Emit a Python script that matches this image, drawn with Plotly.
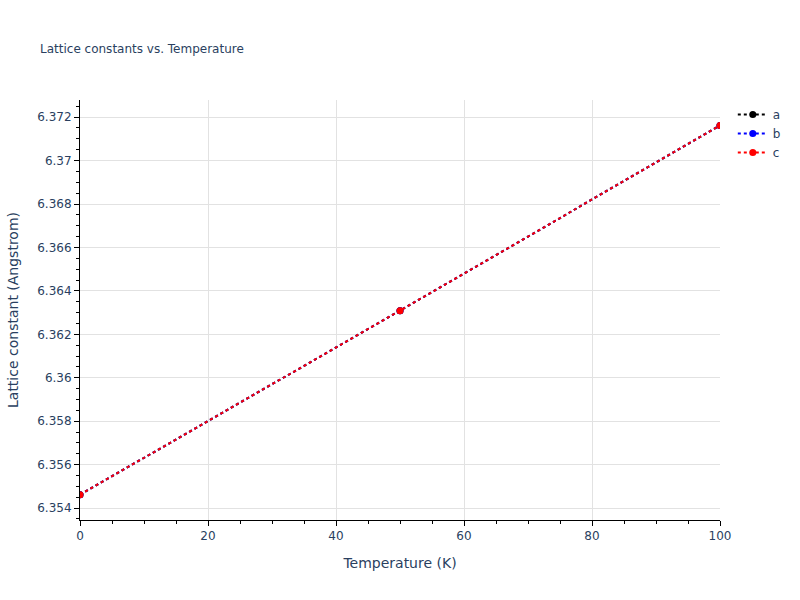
import plotly.graph_objects as go

# Temperatures (K) and lattice constants (Angstrom)
temperature = [0, 50, 100]
lattice_a = [6.35462, 6.36309, 6.37162]
lattice_b = [6.35462, 6.36309, 6.37162]
lattice_c = [6.35462, 6.36309, 6.37162]

series = [("a", lattice_a, "black"), ("b", lattice_b, "blue"), ("c", lattice_c, "red")]

fig = go.Figure()
for name, values, color in series:
    fig.add_trace(go.Scatter(
        x=temperature, y=values, name=name, mode="lines+markers",
        line=dict(color=color, dash="dot", width=2),
        marker=dict(color=color, size=7),
    ))

fig.update_layout(
    template="plotly_white",
    width=800, height=600,
    font=dict(family="Verdana, DejaVu Sans, sans-serif"),
    title=dict(text="Lattice constants vs. Temperature", font=dict(size=12), x=0.05, y=0.925),
    xaxis=dict(
        title="Temperature (K)", range=[0, 100], showline=True, linecolor="black", linewidth=1,
        ticks="outside", tickcolor="black", gridcolor="#e2e2e2",
        minor=dict(ticks="outside", dtick=5, tickcolor="black", showgrid=False),
        zeroline=False,
    ),
    yaxis=dict(
        title="Lattice constant (Angstrom)", showline=True, linecolor="black", linewidth=1,
        ticks="outside", tickcolor="black", gridcolor="#e2e2e2",
        minor=dict(ticks="outside", dtick=0.0005, tickcolor="black", showgrid=False),
        zeroline=False,
    ),
)

# page body has a default margin; drop it so the figure sits at the window origin
fig.write_html(
    "out.html",
    config={"displayModeBar": False},
    post_script="document.body.style.margin='0px';",
)
